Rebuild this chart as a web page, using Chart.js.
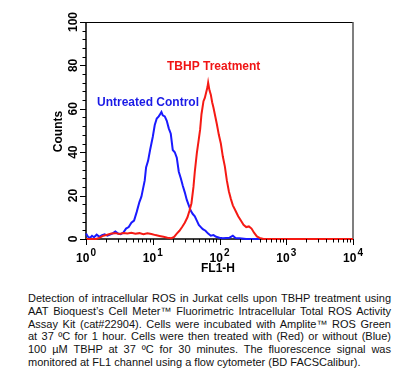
<!DOCTYPE html>
<html>
<head>
<meta charset="utf-8">
<script src="https://cdn.jsdelivr.net/npm/chart.js@4"></script>
<style>
    body { margin: 0; background: #fff; }
    #wrap { position: absolute; left: 0; top: 0; width: 400px; height: 283px; }
    #caption {
        position: absolute; left: 28px; top: 292px; width: 363px;
        font-family: "Liberation Sans", Arial, sans-serif; font-size: 11px;
        line-height: 12.8px; color: #111;
    }
    #caption div { text-align: justify; text-align-last: justify; white-space: nowrap; }
    #caption div.last { text-align-last: left; }
</style>
</head>
<body>
<div id="wrap"><canvas id="rosChart" width="400" height="283"></canvas></div>
<div id="caption">
    <div>Detection of intracellular ROS in Jurkat cells upon TBHP treatment using</div>
    <div>AAT Bioquest’s Cell Meter™ Fluorimetric Intracellular Total ROS Activity</div>
    <div>Assay Kit (cat#22904). Cells were incubated with Amplite™ ROS Green</div>
    <div>at 37 ºC for 1 hour. Cells were then treated with (Red) or without (Blue)</div>
    <div>100 µM TBHP at 37 ºC for 30 minutes. The fluorescence signal was</div>
    <div class="last">monitored at FL1 channel using a flow cytometer (BD FACSCalibur).</div>
</div>
<script>
// FL1-H is plotted in decades: 0 = 10^0 ... 4 = 10^4
const xDecades = [0, 1, 2, 3, 4];
const yTicks = [0, 20, 40, 60, 80, 100];

// Untreated control (blue)
const blueLogFL1 = [0.00, 0.03, 0.06, 0.09, 0.12, 0.16, 0.20, 0.24, 0.28, 0.32, 0.36, 0.40, 0.44, 0.48,
    0.52, 0.56, 0.60, 0.64, 0.68, 0.72, 0.76, 0.80, 0.83, 0.86, 0.88, 0.90, 0.93, 0.96, 0.98, 1.00,
    1.03, 1.06, 1.09, 1.11, 1.13, 1.15, 1.18, 1.21, 1.24, 1.27, 1.30, 1.33, 1.36, 1.39, 1.42, 1.45,
    1.48, 1.51, 1.54, 1.57, 1.60, 1.63, 1.66, 1.69, 1.72, 1.75, 1.79, 1.83, 1.87, 1.91, 1.95, 2.00,
    2.05, 2.10, 2.15, 2.20, 2.24, 2.30, 2.40, 2.60];
const blueCounts = [2.5, 1.0, 0.5, 1.5, 0.8, 2.0, 1.0, 1.8, 2.2, 1.5, 2.0, 2.6, 3.5, 2.5,
    2.2, 3.0, 4.8, 5.5, 7.5, 8.5, 12.5, 17, 19.5, 24, 27, 33, 36, 41, 44, 47,
    52.5, 55.5, 56.5, 57.5, 58.5, 57, 56.5, 54.5, 51, 48.5, 41, 40, 37.5, 31, 28, 24.5,
    21.5, 18, 15.5, 13, 11.5, 10.5, 8.5, 6.5, 5.5, 4.5, 3.8, 2.5, 1.5, 1.8, 1.0, 0.6,
    0.4, 0.5, 0.6, 1.5, 0.5, 0.3, 0, 0];

// TBHP treatment (red)
const redLogFL1 = [0.00, 0.15, 0.20, 0.26, 0.32, 0.38, 0.44, 0.50, 0.56, 0.62, 0.68, 0.74, 0.80, 0.86,
    0.92, 0.98, 1.04, 1.10, 1.16, 1.22, 1.28, 1.32, 1.36, 1.40, 1.44, 1.48, 1.52, 1.55, 1.58, 1.61,
    1.63, 1.66, 1.69, 1.71, 1.73, 1.76, 1.78, 1.80, 1.82, 1.83, 1.85, 1.87, 1.89, 1.91, 1.94, 1.96,
    1.99, 2.02, 2.05, 2.08, 2.11, 2.14, 2.17, 2.20, 2.24, 2.28, 2.32, 2.36, 2.40, 2.44, 2.48, 2.52,
    2.56, 2.60, 2.66, 4.00];
const redCounts = [0, 0, 0.5, 1.5, 2.0, 2.5, 2.7, 2.3, 2.8, 2.5, 2.9, 2.4, 2.7, 2.2,
    2.6, 2.3, 1.8, 1.4, 1.0, 0.6, 0.4, 1.0, 2.5, 3.8, 5.5, 7.5, 10, 13, 16.5, 24,
    31, 39.5, 46, 50.5, 57.5, 63.5, 65, 67.5, 70, 72, 68.5, 66.5, 63, 60.5, 56, 53,
    48, 44, 38, 33.5, 27, 22, 18.5, 15.5, 13, 10.5, 8.5, 6.5, 5.5, 5.8, 4.8, 2.8,
    1.2, 0.5, 0, 0];

const FONT = '"Liberation Sans", Arial, sans-serif';

function toPoints(xs, ys) {
    return xs.map((x, i) => ({ x: x, y: ys[i] }));
}

const facsAxes = {
    id: 'facsAxes',
    beforeDatasetsDraw(chart) {
        const ctx = chart.ctx;
        const a = chart.chartArea;
        ctx.save();
        // top and right frame
        ctx.strokeStyle = '#000';
        ctx.lineWidth = 1;
        ctx.beginPath();
        ctx.moveTo(a.left, a.top + 0.5);
        ctx.lineTo(a.right, a.top + 0.5);
        ctx.stroke();
        ctx.strokeStyle = '#555';
        ctx.lineWidth = 1.5;
        ctx.beginPath();
        ctx.moveTo(a.right, a.top);
        ctx.lineTo(a.right, a.bottom);
        ctx.stroke();
        // left and bottom axes
        ctx.strokeStyle = '#000';
        ctx.lineWidth = 1.5;
        ctx.beginPath();
        ctx.moveTo(a.left, a.top);
        ctx.lineTo(a.left, a.bottom);
        ctx.lineTo(a.right, a.bottom);
        ctx.stroke();
        ctx.restore();
    },
    afterDraw(chart) {
        const ctx = chart.ctx;
        const a = chart.chartArea;
        const xs = chart.scales.x;
        const ys = chart.scales.y;
        ctx.save();
        ctx.strokeStyle = '#000';
        ctx.fillStyle = '#000';
        ctx.lineWidth = 1;

        // y ticks, minor every 4
        for (let v = 0; v <= 100; v += 4) {
            const y = Math.round(ys.getPixelForValue(v)) + 0.5;
            const len = v % 20 === 0 ? 6 : 3.5;
            ctx.beginPath();
            ctx.moveTo(a.left, y);
            ctx.lineTo(a.left - len, y);
            ctx.stroke();
        }
        // x ticks, decades + minor 2..9
        xDecades.forEach(d => {
            const marks = [{ v: d, len: 6 }];
            if (d < 4) {
                for (let k = 2; k <= 9; k++) marks.push({ v: d + Math.log10(k), len: 3.5 });
            }
            marks.forEach(m => {
                const x = Math.round(xs.getPixelForValue(m.v)) + 0.5;
                ctx.beginPath();
                ctx.moveTo(x, a.bottom);
                ctx.lineTo(x, a.bottom + m.len);
                ctx.stroke();
            });
        });

        // y tick labels, rotated
        ctx.font = 'bold 12px ' + FONT;
        ctx.textAlign = 'center';
        ctx.textBaseline = 'alphabetic';
        yTicks.forEach(v => {
            ctx.save();
            ctx.translate(a.left - 9, ys.getPixelForValue(v));
            ctx.rotate(-Math.PI / 2);
            ctx.fillText(String(v), 0, 0);
            ctx.restore();
        });
        ctx.save();
        ctx.translate(62, (a.top + a.bottom) / 2 + 1);
        ctx.rotate(-Math.PI / 2);
        ctx.fillText('Counts', 0, 0);
        ctx.restore();

        // x tick labels 10^n
        ctx.textAlign = 'left';
        xDecades.forEach(d => {
            ctx.font = 'bold 12px ' + FONT;
            const w1 = ctx.measureText('10').width;
            ctx.font = 'bold 10px ' + FONT;
            const w2 = ctx.measureText(String(d)).width;
            const x0 = xs.getPixelForValue(d) - (w1 + w2 + 1) / 2;
            ctx.font = 'bold 12px ' + FONT;
            ctx.fillText('10', x0, 262);
            ctx.font = 'bold 10px ' + FONT;
            ctx.fillText(String(d), x0 + w1 + 1, 256);
        });
        ctx.font = 'bold 12px ' + FONT;
        ctx.textAlign = 'center';
        ctx.fillText('FL1-H', 218, 272);

        // series labels
        ctx.textAlign = 'left';
        ctx.fillStyle = '#1a1ae6';
        ctx.fillText('Untreated Control', 97, 105.5);
        ctx.fillStyle = '#f01414';
        ctx.fillText('TBHP Treatment', 167, 70);
        ctx.restore();
    }
};

new Chart(document.getElementById('rosChart'), {
    type: 'line',
    data: {
        datasets: [
            {
                label: 'Untreated Control',
                data: toPoints(blueLogFL1, blueCounts),
                borderColor: '#1a1aff',
                borderWidth: 2,
                pointRadius: 0,
                tension: 0,
                clip: false,
                order: 2
            },
            {
                label: 'TBHP Treatment',
                data: toPoints(redLogFL1, redCounts),
                borderColor: '#f51a14',
                borderWidth: 2,
                pointRadius: 0,
                tension: 0,
                clip: false,
                order: 1
            }
        ]
    },
    options: {
        responsive: false,
        animation: false,
        layout: { padding: { left: 86, right: 47, top: 22, bottom: 44 } },
        plugins: {
            legend: { display: false },
            tooltip: { enabled: false }
        },
        scales: {
            x: { type: 'linear', min: 0, max: 4, display: false },
            y: { type: 'linear', min: 0, max: 100, display: false }
        }
    },
    plugins: [facsAxes]
});
</script>
</body>
</html>
